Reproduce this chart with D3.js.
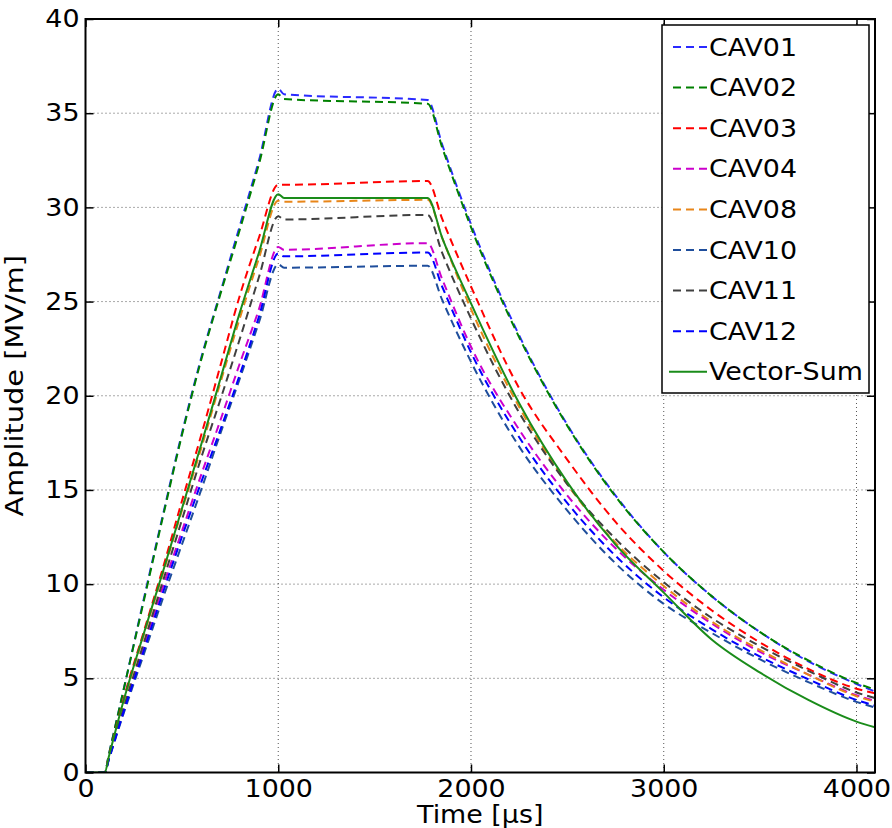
<!DOCTYPE html>
<html>
<head>
<meta charset="utf-8">
<script src="https://cdnjs.cloudflare.com/ajax/libs/d3/7.8.5/d3.min.js"></script>
<style>
    body { margin: 0; background: #fff; }
    text { font-family: "DejaVu Sans", Verdana, sans-serif; fill: #000; }
</style>
</head>
<body>
<div id="chart"></div>
<script>
// sample times in microseconds
var time = [0, 100, 120, 200, 300, 400, 500, 600, 700, 800, 900, 1000, 1030, 1775, 1850, 2000, 2250, 2500, 2750, 3000, 3250, 3500, 3750, 4000, 4096]

// amplitudes in MV/m for each trace
var cav01 = [0, 0, 0.9, 4.5, 9.1, 13.6, 18.0, 22.0, 25.5, 29.0, 32.5, 36.3, 36.0, 35.7, 33.35, 29.1, 23.2, 18.45, 14.7, 11.7, 9.35, 7.45, 5.9, 4.7, 4.3]
var cav02 = [0, 0, 0.9, 4.5, 9.0, 13.5, 17.9, 21.9, 25.4, 28.8, 32.3, 36.0, 35.75, 35.5, 33.2, 28.95, 23.1, 18.4, 14.65, 11.7, 9.35, 7.45, 5.95, 4.75, 4.4]
var cav03 = [0, 0, 0.8, 4.0, 7.4, 10.8, 14.4, 17.9, 21.6, 25.3, 28.4, 31.2, 31.2, 31.4, 29.4, 25.8, 20.4, 16.6, 13.3, 10.7, 8.6, 6.9, 5.5, 4.45, 4.2]
var cav04 = [0, 0, 0.7, 3.4, 6.6, 9.8, 12.8, 15.8, 18.7, 21.7, 24.6, 27.9, 27.75, 28.1, 26.2, 22.6, 18.2, 14.7, 11.9, 9.7, 7.9, 6.4, 5.2, 4.1, 3.8]
var cav08 = [0, 0, 0.75, 3.8, 7.2, 10.5, 13.9, 17.2, 20.7, 24.1, 27.3, 30.35, 30.3, 30.4, 28.4, 24.6, 19.4, 15.3, 12.2, 9.9, 8.0, 6.5, 5.2, 4.05, 3.75]
var cav10 = [0, 0, 0.65, 3.2, 6.2, 9.2, 12.1, 15.0, 18.0, 20.9, 23.9, 26.98, 26.8, 26.9, 25.1, 21.8, 17.3, 13.9, 11.1, 8.95, 7.4, 6.0, 4.8, 3.75, 3.45]
var cav11 = [0, 0, 0.7, 3.5, 6.8, 10.1, 13.4, 16.7, 19.8, 23.0, 26.3, 29.53, 29.36, 29.6, 27.6, 24.1, 19.1, 15.3, 12.4, 10.1, 8.2, 6.7, 5.4, 4.25, 3.95]
var cav12 = [0, 0, 0.65, 3.3, 6.4, 9.5, 12.5, 15.4, 18.2, 21.1, 24.2, 27.55, 27.4, 27.6, 25.8, 22.3, 17.8, 14.3, 11.5, 9.3, 7.6, 6.15, 4.95, 3.85, 3.55]
var vectorSum = [0, 0, 0.8, 3.9, 7.3, 10.6, 14.0, 17.4, 20.9, 24.4, 27.6, 30.7, 30.5, 30.5, 28.4, 24.9, 19.6, 15.4, 12.1, 9.55, 7.05, 5.3, 3.85, 2.7, 2.4]

var names = ["CAV01", "CAV02", "CAV03", "CAV04", "CAV08", "CAV10", "CAV11", "CAV12", "Vector-Sum"]
var allValues = [cav01, cav02, cav03, cav04, cav08, cav10, cav11, cav12, vectorSum]
var colors = ["#2a2aff", "#008000", "#ff0000", "#cc00cc", "#e8861a", "#1f4e9c", "#404040", "#0000ff", "#1a8c1a"]

var xTicks = [0, 1000, 2000, 3000, 4000]
var yTicks = [0, 5, 10, 15, 20, 25, 30, 35, 40]

// set the dimensions and margins of the graph
var margin = { top: 19, right: 17, bottom: 55.5, left: 85.5 }
var width = 892 - margin.left - margin.right
var height = 828 - margin.top - margin.bottom
var stretch = 1.12 // the original glyphs are drawn wider

var svg = d3.select("#chart")
    .append("svg")
    .attr("width", 892)
    .attr("height", 828)
    .append("g")
    .attr("transform", "translate(" + margin.left + "," + margin.top + ")");

var x = d3.scaleLinear().domain([0, 4096]).range([0, width]);
var y = d3.scaleLinear().domain([0, 40]).range([height, 0]);

// dotted grid
svg.append("g")
    .selectAll("line")
    .data(xTicks.slice(1))
    .enter()
    .append("line")
    .attr("x1", function (d) { return x(d) })
    .attr("x2", function (d) { return x(d) })
    .attr("y1", 0)
    .attr("y2", height)
    .attr("stroke", "#555")
    .attr("stroke-width", 1)
    .attr("stroke-dasharray", "1,3")
svg.append("g")
    .selectAll("line")
    .data(yTicks.slice(1, -1))
    .enter()
    .append("line")
    .attr("x1", 0)
    .attr("x2", width)
    .attr("y1", function (d) { return y(d) })
    .attr("y2", function (d) { return y(d) })
    .attr("stroke", "#555")
    .attr("stroke-width", 1)
    .attr("stroke-dasharray", "1,3")

// clip for the traces
svg.append("clipPath")
    .attr("id", "clip")
    .append("rect")
    .attr("width", width)
    .attr("height", height)

var line = d3.line()
    .x(function (d, i) { return x(time[i]) })
    .y(function (d) { return y(d) })
    .curve(d3.curveMonotoneX)

// Add the lines
svg.append("g")
    .attr("clip-path", "url(#clip)")
    .selectAll("path")
    .data(allValues)
    .enter()
    .append("path")
    .attr("d", function (d) { return line(d) })
    .attr("fill", "none")
    .attr("stroke", function (d, i) { return colors[i] })
    .attr("stroke-width", 2)
    .attr("stroke-dasharray", function (d, i) { return names[i] === "Vector-Sum" ? null : "8,5" })

// Axes with inward ticks
svg.append("g")
    .attr("transform", "translate(0," + height + ")")
    .call(d3.axisBottom(x).tickValues(xTicks).tickFormat(d3.format("d")).tickSizeInner(-8).tickSizeOuter(0).tickPadding(7))
svg.append("g")
    .call(d3.axisLeft(y).tickValues(yTicks).tickSizeInner(-8).tickSizeOuter(0).tickPadding(6))
svg.append("g")
    .call(d3.axisTop(x).tickValues(xTicks).tickSizeInner(-8).tickSizeOuter(0).tickFormat(""))
svg.append("g")
    .attr("transform", "translate(" + width + ",0)")
    .call(d3.axisRight(y).tickValues(yTicks).tickSizeInner(-8).tickSizeOuter(0).tickFormat(""))

svg.selectAll(".domain").remove()
svg.selectAll(".tick line").attr("stroke", "#000").attr("stroke-width", 1.5)
svg.selectAll(".tick text")
    .style("font-size", "24px")
    .style("font-family", "'DejaVu Sans', Verdana, sans-serif")
    .attr("transform", "scale(" + stretch + ",1)")
    .attr("x", function () { return +d3.select(this).attr("x") / stretch })

// frame
svg.append("rect")
    .attr("width", width)
    .attr("height", height)
    .attr("fill", "none")
    .attr("stroke", "#000")
    .attr("stroke-width", 2)

// axis titles
svg.append("text")
    .attr("transform", "translate(" + (width / 2) + "," + (height + 50) + ") scale(" + stretch + ",1)")
    .style("text-anchor", "middle")
    .style("font-size", "24px")
    .text("Time [\u00b5s]");
svg.append("text")
    .attr("transform", "translate(" + (-63) + "," + (height / 2 - 10) + ") rotate(-90) scale(1.2,1)")
    .style("text-anchor", "middle")
    .style("font-size", "24px")
    .text("Amplitude [MV/m]");

// legend
var legend = svg.append("g")
    .attr("transform", "translate(" + (662 - margin.left) + "," + (25 - margin.top) + ")")
legend.append("rect")
    .attr("width", 207)
    .attr("height", 368)
    .attr("fill", "#fff")
    .attr("stroke", "#000")
    .attr("stroke-width", 1.5)

var items = legend.selectAll("g.item")
    .data(names)
    .enter()
    .append("g")
    .attr("transform", function (d, i) { return "translate(0," + (22 + i * 40.6) + ")" })
items.append("line")
    .attr("x1", function (d) { return d === "Vector-Sum" ? 7 : 11 })
    .attr("x2", 45)
    .attr("stroke", function (d, i) { return colors[i] })
    .attr("stroke-width", 2)
    .attr("stroke-dasharray", function (d) { return d === "Vector-Sum" ? null : "8,5" })
items.append("text")
    .attr("transform", "translate(47,8.5) scale(" + stretch + ",1)")
    .style("font-size", "24px")
    .text(function (d) { return d })
</script>
</body>
</html>
